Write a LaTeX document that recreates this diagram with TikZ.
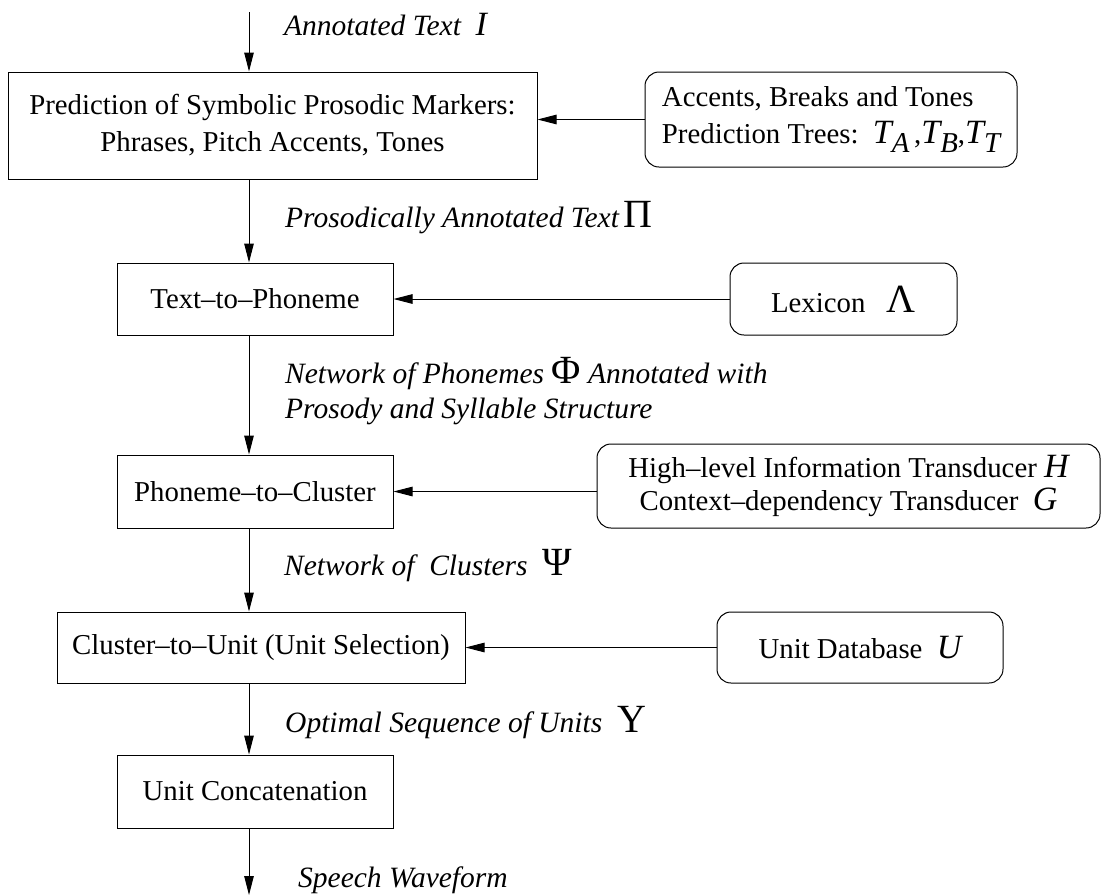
\documentclass[tikz,border=0pt]{standalone}
\usepackage{fontspec}
\setmainfont{Liberation Serif}
\usetikzlibrary{arrows.meta}
% upright Greek symbol, set larger than the text around it
\newcommand\gk[1]{{\upshape\fontsize{40}{40}\selectfont #1}}
% larger italic letter for symbols
\newcommand\bigit[1]{{\itshape\fontsize{34}{34}\selectfont #1}}
% lowered italic subscript
\newcommand\lowsub[1]{\raisebox{-9pt}{\itshape #1}}
\begin{document}
\begin{tikzpicture}[x=1pt,y=-1pt,
  every node/.style={font=\fontsize{28.8}{37}\selectfont},
  proc/.style={draw, line width=1pt, inner sep=0pt, align=center},
  src/.style={proc, rounded corners=14pt},
  lbl/.style={font=\fontsize{29.5}{35}\selectfont\itshape, anchor=base west, inner sep=0pt, align=left},
  flow/.style={line width=1pt, -{Triangle[length=19pt,width=9.5pt]}}
]
\useasboundingbox (0,0) rectangle (1102,895);

% processing stages
\node[proc, minimum width=529pt, minimum height=107pt] (pred) at (272.5,125.5)
  {Prediction of Symbolic Prosodic Markers:\\Phrases, Pitch Accents, Tones};
\node[proc, minimum width=276pt, minimum height=72pt] (t2p) at (255,299) {Text--to--Phoneme};
\node[proc, minimum width=276pt, minimum height=73pt] (p2c) at (255,491.5) {Phoneme--to--Cluster};
\node[proc, minimum width=408pt, minimum height=71pt] (c2u) at (261,647.5) {Cluster--to--Unit (Unit Selection)};
\node[proc, minimum width=276pt, minimum height=73pt] (cat) at (255,791.5) {Unit Concatenation};

% knowledge sources
\node[src, minimum width=372pt, minimum height=95pt, align=left] (trees) at (831,119.5)
  {Accents, Breaks and Tones\\Prediction Trees:\ \ \bigit{T}\lowsub{A}\,,\bigit{T}\lowsub{B},\bigit{T}\lowsub{T}};
\node[src, minimum width=227pt, minimum height=72pt] (lex) at (843.5,299) {Lexicon\ \ \ \gk{Λ}};
\node[src, minimum width=503pt, minimum height=84pt, font=\fontsize{28.8}{33}\selectfont] (hl) at (848.5,486)
  {High--level Information Transducer \bigit{H}\\Context--dependency Transducer\ \ \bigit{G}};
\node[src, minimum width=286pt, minimum height=71pt] (udb) at (860,647.5) {Unit Database\ \ \bigit{U}};

% main flow
\coordinate (in) at (249,12);
\coordinate (out) at (249,895);
\draw[flow] (in) -- (in |- pred.north);
\draw[flow] (pred.south -| in) -- (t2p.north -| in);
\draw[flow] (t2p.south -| in) -- (p2c.north -| in);
\draw[flow] (p2c.south -| in) -- (c2u.north -| in);
\draw[flow] (c2u.south -| in) -- (cat.north -| in);
\draw[flow] (cat.south -| in) -- (out);

% side inputs
\draw[flow] (trees.west) -- (trees.west -| pred.east);
\draw[flow] (lex.west) -- (lex.west -| t2p.east);
\draw[flow] (p2c.east -| hl.west) -- (p2c.east);
\draw[flow] (udb.west) -- (udb.west -| c2u.east);

% data labels
\node[lbl] (lin) at (284,35) {Annotated Text\ \ \bigit{I}};
\node[lbl] (lpi) at (285,227) {Prosodically Annotated Text\,\gk{Π}};
\node[lbl] (lphi) at (285,418) {Network of Phonemes \gk{Φ} Annotated with\\Prosody and Syllable Structure};
\node[lbl] (lpsi) at (284,575) {Network of\ \ Clusters\ \ \gk{Ψ}};
\node[lbl] (lups) at (285,732) {Optimal Sequence of Units\ \ \gk{Υ}};
\node[lbl] (lsw) at (298,887) {Speech Waveform};
\end{tikzpicture}
\end{document}
